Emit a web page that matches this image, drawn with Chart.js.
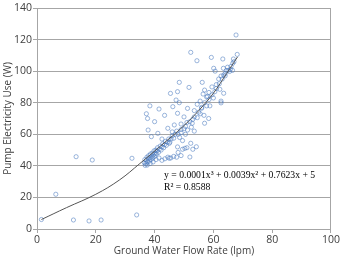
<!DOCTYPE html>
<html>
<head>
<meta charset="utf-8">
<script src="https://cdn.jsdelivr.net/npm/chart.js@4"></script>
<style>
  html, body { margin: 0; padding: 0; background: #fff; }
  #wrap { width: 341px; height: 257px; }
</style>
</head>
<body>
<div id="wrap"><canvas id="chart" width="341" height="257"></canvas></div>
<script>
// measured points: flow rate (lpm) vs pump electricity use (W), grouped by region of the plot
const flowRate = [
  1.5, 6.4, 12.4, 13.3, 17.7, 18.8, 21.8, 32.3, 33.9,
  67.7, 52.3, 54.4, 59.3, 63.2, 66.8, 68.1, 66.6,
  60.1, 60.6, 63.4, 64.4, 65.5, 66.5, 64.8, 65.8, 62.6, 61.8, 63.5, 64,
  48.4, 56.2, 51.7, 47.8, 45.4, 57, 58.5, 60.5, 62.2, 61, 59.5, 63.5, 58, 56.5, 60,
  47.3, 48.4, 57.7, 57.7, 58.8, 62.6, 62.6, 38.4, 46.2, 51.2, 55.5, 56, 53.5, 54.5, 41.5,
  37.2, 37.6, 43.4, 47.8, 56.8, 58.4, 52.8, 50, 53, 54.5, 55.5, 51, 49, 46.7, 40, 57,
  37.8, 38.9, 41.1, 44.5, 51.2, 45, 47.8, 49, 50, 48.5, 50.5, 52.5, 53.5, 46, 42.5, 49.5,
  36.5, 36.7, 37, 37.2, 37.4, 37.6, 37.8, 38, 38.2, 38.4, 38.6, 38.8, 39, 39.2, 39.4,
  39.6, 39.8, 40, 40.2, 40.4, 40.6, 40.8, 41, 41.3, 41.6, 41.9, 42.2, 42.5, 42.8, 43.1,
  43.4, 43.7, 44, 44.4, 44.8, 45.2, 45.6, 46, 46.5, 47, 47.5, 48, 36.8,
  37.5, 38.5, 39.5, 40.5, 41.5, 42.5, 43.5, 44.5, 45.5, 46.5, 47.5, 49, 52, 49.5, 51, 53, 54.2, 45, 48, 50.3, 52.3,
  49, 50.5, 52, 53.5, 55, 56, 57, 58.5, 59.5, 61, 62, 63, 64, 65, 66, 67
];
const pumpPower = [
  6, 22, 5.7, 45.8, 5.1, 43.7, 5.7, 44.8, 8.9,
  122.9, 111.9, 106.6, 108.7, 107.7, 107.7, 110.6, 105,
  101.8, 100, 101.8, 100.4, 99.8, 100.5, 102.5, 101.2, 96.9, 95, 97.5, 98.5,
  92.9, 92.9, 89.7, 87, 85.9, 88, 86.5, 87, 88.5, 91.5, 90, 86, 84, 85.5, 83,
  81.7, 80, 83.6, 78, 78, 81, 79.9, 78, 77.5, 76.4, 81, 76.5, 75, 79, 76,
  73, 70, 72, 73.3, 72, 70, 67, 71, 69.5, 70.5, 73, 67.5, 66.5, 65.9, 68, 67,
  62.7, 58.5, 60.6, 63.8, 62.7, 54.3, 52, 61, 63.5, 58, 60, 64.5, 62, 61.5, 57, 56,
  42, 44, 41.5, 43.5, 45.5, 42.5, 44.5, 46.5, 43, 45, 47.5, 44, 46, 48, 45,
  47, 49.5, 46, 48, 50, 47.5, 49.5, 51.5, 48.5, 50.5, 52.5, 50, 52, 54, 51.5,
  53.5, 55.5, 53, 55, 57, 55, 57, 59, 57.5, 60, 62, 60, 40.3,
  40.5, 41.5, 42.5, 44, 45, 43.5, 44.5, 45.5, 45, 46, 45.5, 46.5, 45.6, 50.5, 51.5, 50.5, 52.1, 44.8, 48.5, 51.1, 54.3,
  63, 65, 68, 71, 74, 77, 80, 82, 85, 89, 92, 95, 97, 100.5, 103, 106
];

// polynomial trendline
const trendX = [1.5, 10, 20, 28, 35, 42, 50, 55, 60, 64.5, 68.2];
const trendY = [6, 13.5, 22, 31, 41.5, 52.5, 65.5, 75, 86, 98.5, 109];

const xTicks = [0, 20, 40, 60, 80, 100];
const eqLine1 = 'y = 0.0001x³ + 0.0039x² + 0.7623x + 5';
const eqLine2 = 'R² = 0.8588';

const textColor = '#404040';
const gridColor = '#a6a6a6';

const frame = {
  id: 'frame',
  afterDraw(chart) {
    const {ctx, chartArea: a, scales} = chart;
    ctx.save();
    ctx.strokeStyle = gridColor;
    ctx.lineWidth = 1;
    ctx.strokeRect(a.left + 0.5, a.top + 0.5, a.right - a.left - 1, a.bottom - a.top);
    // equation label
    ctx.fillStyle = '#000';
    ctx.font = '9.7px "Liberation Serif", "DejaVu Serif", serif';
    ctx.textBaseline = 'middle';
    const tx = scales.x.getPixelForValue(43.2);
    ctx.fillText(eqLine1, tx, scales.y.getPixelForValue(34.2));
    ctx.fillText(eqLine2, tx, scales.y.getPixelForValue(26.2));
    ctx.restore();
  }
};

new Chart(document.getElementById('chart'), {
  type: 'scatter',
  data: {
    datasets: [
      {
        label: 'trend',
        type: 'line',
        data: trendX.map((x, i) => ({x, y: trendY[i]})),
        borderColor: '#555',
        borderWidth: 1,
        pointRadius: 0,
        tension: 0.4,
        fill: false,
        order: 0
      },
      {
        label: 'data',
        data: flowRate.map((x, i) => ({x, y: pumpPower[i]})),
        pointStyle: 'circle',
        pointRadius: 2.1,
        borderWidth: 0.9,
        borderColor: 'rgba(70,120,190,0.6)',
        backgroundColor: 'rgba(255,255,255,0)',
        order: 1
      }
    ]
  },
  options: {
    responsive: false,
    animation: false,
    layout: { padding: { top: 8, right: 5, left: 0, bottom: 0 } },
    plugins: { legend: { display: false }, tooltip: { enabled: false } },
    scales: {
      x: {
        type: 'linear',
        min: 0, max: 100,
        afterBuildTicks: s => { s.ticks = xTicks.map(v => ({value: v})); },
        afterFit: s => { s.height = 28; },
        grid: { drawOnChartArea: false, tickLength: 4, color: gridColor },
        border: { color: gridColor },
        ticks: { color: textColor, font: { family: 'Open Sans', size: 10.5 }, padding: 1, maxRotation: 0 },
        title: { display: true, text: 'Ground Water Flow Rate (lpm)', color: textColor,
                 font: { family: 'Open Sans', size: 10 }, padding: { top: 0, bottom: 0 } }
      },
      y: {
        min: 0, max: 140,
        ticks: { stepSize: 20, color: textColor, font: { family: 'Open Sans', size: 10.5 }, padding: 1 },
        afterFit: s => { s.width = 37; },
        grid: { color: gridColor, tickLength: 4 },
        border: { color: gridColor },
        title: { display: true, text: 'Pump Electricity Use (W)', color: textColor,
                 font: { family: 'Open Sans', size: 10 }, padding: { top: 2, bottom: 0 } }
      }
    }
  },
  plugins: [frame]
});
</script>
</body>
</html>
